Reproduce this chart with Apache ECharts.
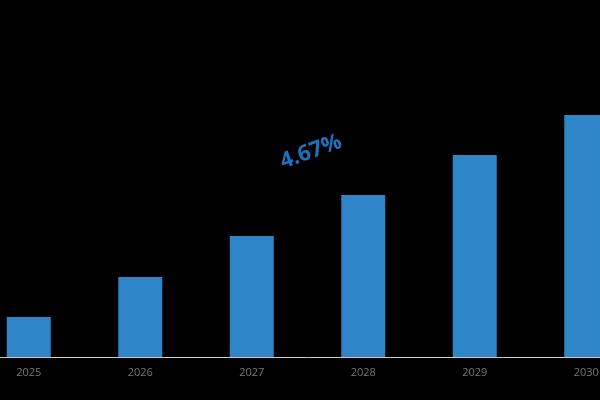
<!DOCTYPE html><html><head><meta charset="utf-8">
<script src="https://cdn.jsdelivr.net/npm/echarts@6/dist/echarts.min.js"></script>
<style>html,body{margin:0;background:#000;overflow:hidden}#c{width:669px;height:400px;margin-left:-27px}</style></head><body><div id="c"></div>
<script>
const categories=['2025','2026','2027','2028','2029','2030'];
const values=[40,80,121,162,202,242];
const cagrLabel='4.67%';
const chart=echarts.init(document.getElementById('c'));
chart.setOption({
 backgroundColor:'#000',
 grid:{left:0,right:0,top:0,bottom:43},
 xAxis:{type:'category',data:categories,axisLine:{lineStyle:{color:'#ccc',width:1}},axisTick:{show:false},
  axisLabel:{color:'#777',fontSize:11,margin:10,fontFamily:'Open Sans'}},
 yAxis:{type:'value',min:0,max:357,show:false,splitLine:{show:false}},
 series:[{type:'bar',data:values,barWidth:44,itemStyle:{color:'#2e86c8'},silent:true}],
 graphic:[{type:'text',x:338,y:152,rotation:20*Math.PI/180,style:{text:cagrLabel,fill:'#1e73be',font:'bold 22px "Open Sans"',align:'center',verticalAlign:'middle'}}]
});
</script></body></html>
